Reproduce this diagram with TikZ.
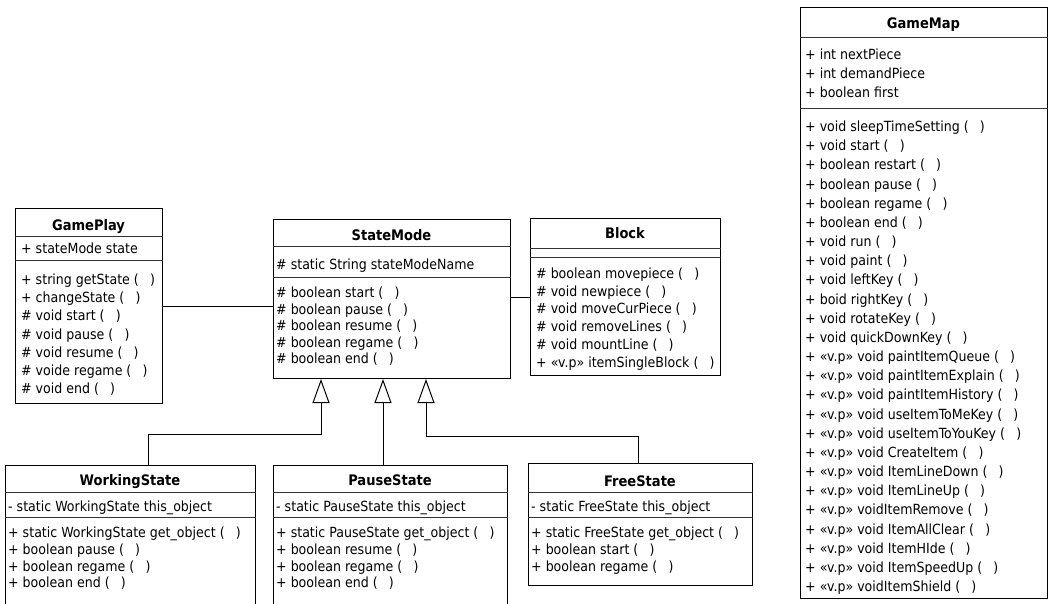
\documentclass[tikz,border=0pt]{standalone}
\usepackage{fontspec}
\setmainfont{DejaVu Sans Condensed}
\usetikzlibrary{arrows.meta,calc}
% empty parameter list of an operation
\newcommand\noargs{(\hspace{0.8em})}

\begin{document}
\begin{tikzpicture}[x=1pt,y=-1pt,
  classbox/.style={draw=black, line width=1pt, anchor=north west, inner sep=0pt, fill=white},
  classtitle/.style={font=\fontsize{14.5}{15}\selectfont\bfseries, inner sep=0pt, anchor=base},
  member/.style={font=\fontsize{14}{14}\selectfont, inner sep=0pt, anchor=base west},
  sepline/.style={draw=black!80, line width=0.8pt},
  genarrow/.style={draw=black, line width=1pt, -{Triangle[open, length=24pt, width=17pt, fill=white]}},
  assoc/.style={draw=black, line width=1pt}]
\useasboundingbox (0,0) rectangle (1051,604);

% ---------------- GamePlay ----------------
\node[classbox, minimum width=147pt, minimum height=195pt] (gameplay) at (15,208) {};
\node[classtitle] (gameplay-t) at (88.5,230) {GamePlay};
\draw[sepline] (gameplay.west |- 0,236) -- (gameplay.east |- 0,236);
\node[member] (gameplay-a0) at (21,253.5) {+ stateMode state};
\draw[sepline] (gameplay.west |- 0,260) -- (gameplay.east |- 0,260);
\foreach \t [count=\i from 0] in {+ string getState \noargs, + changeState \noargs,
  \# void start \noargs, \# void pause \noargs, \# void resume \noargs,
  \# voide regame \noargs, \# void end \noargs}
  \node[member] (gameplay-m\i) at (21,{284.5+18.2*\i}) {\t};

% ---------------- StateMode ----------------
\node[classbox, minimum width=237pt, minimum height=159pt] (statemode) at (273,219) {};
\node[classtitle] (statemode-t) at (391.5,240) {StateMode};
\draw[sepline] (statemode.west |- 0,246) -- (statemode.east |- 0,246);
\node[member] (statemode-a0) at (276,269) {\# static String stateModeName};
\draw[sepline] (statemode.west |- 0,277) -- (statemode.east |- 0,277);
\foreach \t [count=\i from 0] in {\# boolean start \noargs, \# boolean pause \noargs,
  \# boolean resume \noargs, \# boolean regame \noargs, \# boolean end \noargs}
  \node[member] (statemode-m\i) at (276,{297.5+16.5*\i}) {\t};

% ---------------- Block ----------------
\node[classbox, minimum width=190pt, minimum height=157pt] (block) at (530,218) {};
\node[classtitle] (block-t) at (625,238) {Block};
\draw[sepline] (block.west |- 0,248) -- (block.east |- 0,248);
\draw[sepline] (block.west |- 0,257) -- (block.east |- 0,257);
\foreach \t [count=\i from 0] in {\# boolean movepiece \noargs, \# void newpiece \noargs,
  \# void moveCurPiece \noargs, \# void removeLines \noargs, \# void mountLine \noargs,
  + «v.p» itemSingleBlock \noargs}
  \node[member] (block-m\i) at (536,{278.5+17.7*\i}) {\t};

% ---------------- WorkingState ----------------
\node[classbox, minimum width=250pt, minimum height=142pt] (workingstate) at (5,465) {};
\node[classtitle] (workingstate-t) at (130,485) {WorkingState};
\draw[sepline] (workingstate.west |- 0,492) -- (workingstate.east |- 0,492);
\node[member] (workingstate-a0) at (8,511) {- static WorkingState this\_object};
\draw[sepline] (workingstate.west |- 0,517) -- (workingstate.east |- 0,517);
\foreach \t [count=\i from 0] in {+ static WorkingState get\_object \noargs,
  + boolean pause \noargs, + boolean regame \noargs, + boolean end \noargs}
  \node[member] (workingstate-m\i) at (8,{537.5+16.8*\i}) {\t};

% ---------------- PauseState ----------------
\node[classbox, minimum width=234pt, minimum height=142pt] (pausestate) at (273,465) {};
\node[classtitle] (pausestate-t) at (390,485) {PauseState};
\draw[sepline] (pausestate.west |- 0,492) -- (pausestate.east |- 0,492);
\node[member] (pausestate-a0) at (276,511) {- static PauseState this\_object};
\draw[sepline] (pausestate.west |- 0,517) -- (pausestate.east |- 0,517);
\foreach \t [count=\i from 0] in {+ static PauseState get\_object \noargs,
  + boolean resume \noargs, + boolean regame \noargs, + boolean end \noargs}
  \node[member] (pausestate-m\i) at (276,{537.5+16.8*\i}) {\t};

% ---------------- FreeState ----------------
\node[classbox, minimum width=224pt, minimum height=122pt] (freestate) at (528,463) {};
\node[classtitle] (freestate-t) at (640,486) {FreeState};
\draw[sepline] (freestate.west |- 0,492) -- (freestate.east |- 0,492);
\node[member] (freestate-a0) at (531,511) {- static FreeState this\_object};
\draw[sepline] (freestate.west |- 0,517) -- (freestate.east |- 0,517);
\foreach \t [count=\i from 0] in {+ static FreeState get\_object \noargs,
  + boolean start \noargs, + boolean regame \noargs}
  \node[member] (freestate-m\i) at (531,{537.5+16.8*\i}) {\t};

% ---------------- GameMap ----------------
\node[classbox, minimum width=247pt, minimum height=591pt] (gamemap) at (800,7) {};
\node[classtitle] (gamemap-t) at (923.5,29) {GameMap};
\draw[sepline] (gamemap.west |- 0,37) -- (gamemap.east |- 0,37);
\foreach \t [count=\i from 0] in {+ int nextPiece, + int demandPiece, + boolean first}
  \node[member] (gamemap-a\i) at (805,{59.5+19*\i}) {\t};
\draw[sepline] (gamemap.west |- 0,108) -- (gamemap.east |- 0,108);
\foreach \t [count=\i from 0] in {+ void sleepTimeSetting \noargs, + void start \noargs,
  + boolean restart \noargs, + boolean pause \noargs, + boolean regame \noargs,
  + boolean end \noargs, + void run \noargs, + void paint \noargs,
  + void leftKey \noargs, + boid rightKey \noargs, + void rotateKey \noargs,
  + void quickDownKey \noargs, + «v.p» void paintItemQueue \noargs,
  + «v.p» void paintItemExplain \noargs, + «v.p» void paintItemHistory \noargs,
  + «v.p» void useItemToMeKey \noargs, + «v.p» void useItemToYouKey \noargs,
  + «v.p» void CreateItem \noargs, + «v.p» void ItemLineDown \noargs,
  + «v.p» void ItemLineUp \noargs, + «v.p» voidItemRemove \noargs,
  + «v.p» void ItemAllClear \noargs, + «v.p» void ItemHIde \noargs,
  + «v.p» void ItemSpeedUp \noargs, + «v.p» voidItemShield \noargs}
  \node[member] (gamemap-m\i) at (805,{131.5+19.17*\i}) {\t};

% ---------------- associations ----------------
\draw[assoc] (gameplay.east) -- (gameplay.east -| statemode.west);
\draw[assoc] (block.west) -- (block.west -| statemode.east);

% ---------------- generalizations ----------------
\coordinate (sm-in1) at ($(statemode.south west)+(48,0)$);
\coordinate (sm-in2) at ($(statemode.south west)+(110,0)$);
\coordinate (sm-in3) at ($(statemode.south west)+(153,0)$);
\coordinate (ws-up) at ($(workingstate.north west)+(143,0)$);
\coordinate (ps-up) at (pausestate.north -| sm-in2);
\coordinate (fs-up) at ($(freestate.north west)+(110,0)$);
\draw[genarrow] (ws-up) |- ($(sm-in1)+(0,55)$) -- (sm-in1);
\draw[genarrow] (ps-up) -- (sm-in2);
\draw[genarrow] (fs-up) |- ($(sm-in3)+(0,57)$) -- (sm-in3);
\end{tikzpicture}
\end{document}
